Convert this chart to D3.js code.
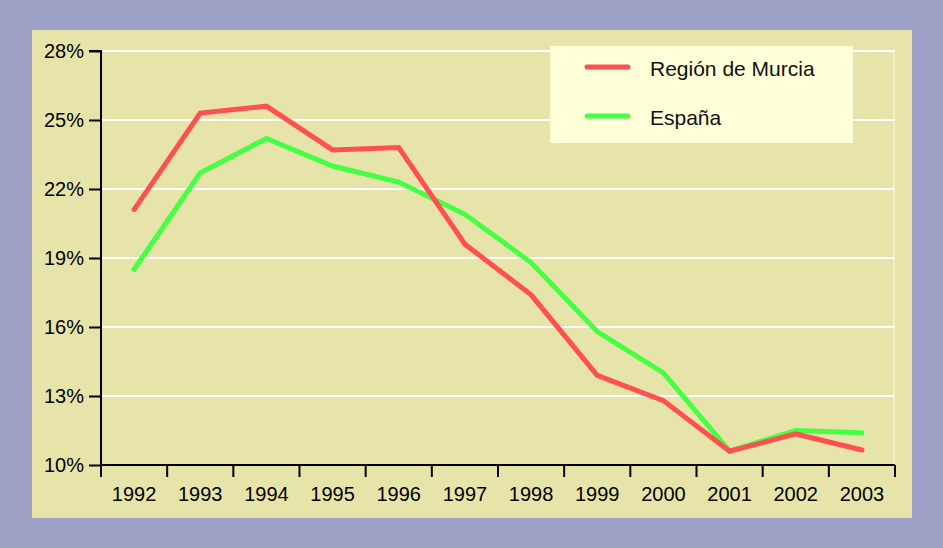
<!DOCTYPE html>
<html>
<head>
<meta charset="utf-8">
<script src="https://cdn.jsdelivr.net/npm/d3@7"></script>
<style>
  body { margin: 0; background: #9da1c5; }
  svg { display: block; font-family: "Liberation Sans", Arial, sans-serif; }
</style>
</head>
<body>
<svg id="chart" width="943" height="548"></svg>
<script>
// data
let years = ['1992', '1993', '1994', '1995', '1996', '1997', '1998', '1999', '2000', '2001', '2002', '2003'];
let murcia = [21.1, 25.3, 25.6, 23.7, 23.8, 19.6, 17.4, 13.9, 12.8, 10.6, 11.35, 10.65];
let espana = [18.5, 22.7, 24.2, 23.0, 22.3, 20.9, 18.8, 15.8, 14.0, 10.6, 11.5, 11.4];
let yTicks = [10, 13, 16, 19, 22, 25, 28];
let seriesNames = ['Región de Murcia', 'España'];

let colors = ['#ff5050', '#44ff44'];

let svg = d3.select('#chart');

// beige panel
svg.append('rect')
  .attr('x', 32).attr('y', 30)
  .attr('width', 880).attr('height', 488)
  .attr('fill', '#e6e4a8');

let plot = {left: 101, right: 895, top: 51, bottom: 465};

let x = d3.scaleBand()
  .domain(years)
  .range([plot.left, plot.right]);

let y = d3.scaleLinear()
  .domain([10, 28])
  .range([plot.bottom, plot.top]);

// grid lines
svg.append('g')
  .selectAll('line')
  .data(yTicks.slice(1))
  .enter()
  .append('line')
  .attr('x1', plot.left)
  .attr('x2', plot.right)
  .attr('y1', d => y(d))
  .attr('y2', d => y(d))
  .attr('stroke', '#ffffff')
  .attr('stroke-width', 2);

// faint right border of the plot
svg.append('line')
  .attr('x1', plot.right - 1).attr('x2', plot.right - 1)
  .attr('y1', plot.top).attr('y2', plot.bottom)
  .attr('stroke', '#fbfbe8')
  .attr('stroke-width', 1);

// y axis
let yAxis = svg.append('g')
  .attr('transform', `translate(${plot.left},0)`)
  .call(d3.axisLeft(y).tickValues(yTicks).tickSize(12).tickPadding(5).tickFormat(d => d + '%'));

// x axis, ticks at band edges
let xAxis = svg.append('g')
  .attr('transform', `translate(0,${plot.bottom})`)
  .call(d3.axisBottom(x).tickSize(0).tickPadding(22));

xAxis.selectAll('.edge')
  .data(d3.range(years.length + 1))
  .enter()
  .append('line')
  .classed('edge', true)
  .attr('x1', i => plot.left + i * x.bandwidth())
  .attr('x2', i => plot.left + i * x.bandwidth())
  .attr('y1', 0)
  .attr('y2', 12)
  .attr('stroke', '#000')
  .attr('stroke-width', 2);

[yAxis, xAxis].forEach(ax => {
  ax.attr('font-size', null).attr('font-family', null);
  ax.select('.domain').attr('stroke', '#000').attr('stroke-width', 2);
  ax.selectAll('.tick line').attr('stroke', '#000').attr('stroke-width', 2);
  ax.selectAll('.tick text')
    .attr('fill', '#000')
    .style('font-size', '20px')
    .style('font-family', '"Liberation Sans", Arial, sans-serif');
});
yAxis.select('.domain').attr('d', `M-12,${plot.top}H0V${plot.bottom}`);
xAxis.select('.domain').attr('d', `M${plot.left},0H${plot.right}`);

// lines
let line = d3.line()
  .x((d, i) => x(years[i]) + x.bandwidth() / 2)
  .y(d => y(d));

[espana, murcia].forEach(vals => {
  let c = vals === murcia ? colors[0] : colors[1];
  svg.append('path')
    .datum(vals)
    .attr('d', line)
    .attr('fill', 'none')
    .attr('stroke', c)
    .attr('stroke-width', 5)
    .attr('stroke-linejoin', 'miter')
    .attr('stroke-linecap', 'round');
});

// legend
let legend = svg.append('g');
legend.append('rect')
  .attr('x', 550).attr('y', 46)
  .attr('width', 303).attr('height', 97)
  .attr('fill', '#ffffd8');

let items = legend.selectAll('.item')
  .data(seriesNames)
  .enter()
  .append('g')
  .attr('transform', (d, i) => `translate(0,${67 + i * 49})`);

items.append('line')
  .attr('x1', 587).attr('x2', 628)
  .attr('y1', 0).attr('y2', 0)
  .attr('stroke', (d, i) => colors[i])
  .attr('stroke-width', 5)
  .attr('stroke-linecap', 'round');

items.append('text')
  .attr('x', 650)
  .attr('y', 9)
  .style('font-size', '21px')
  .attr('fill', '#111')
  .text(d => d);
</script>
</body>
</html>
